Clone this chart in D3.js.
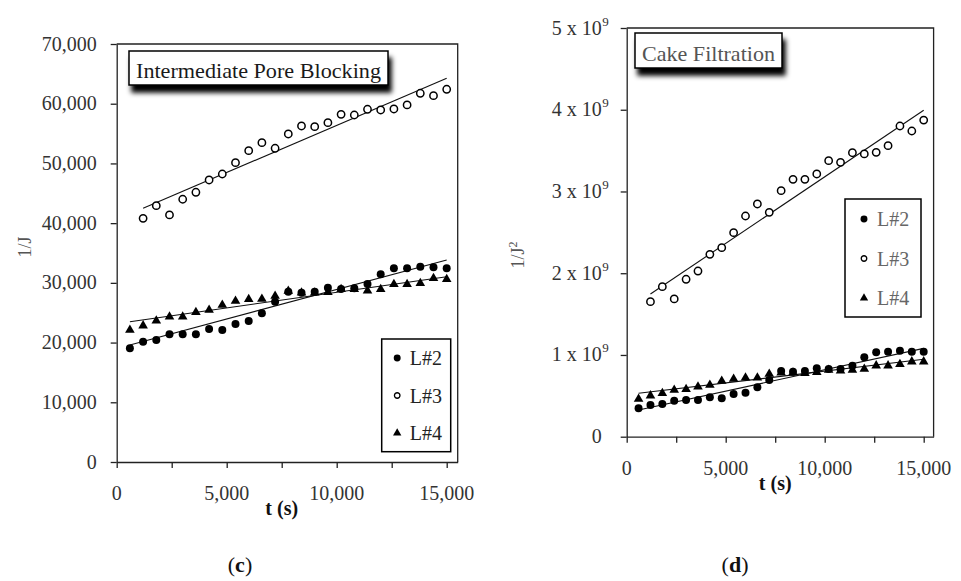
<!DOCTYPE html>
<html><head><meta charset="utf-8">
<script src="https://cdn.jsdelivr.net/npm/d3@7"></script>
<style>
body{margin:0;background:#fff;}
svg{display:block;font-family:"Liberation Serif","DejaVu Serif",serif;}
</style></head><body>
<svg id="c" width="961" height="581"></svg>
<script>
// ---- data ----
const timesL2L4 = [600,1200,1800,2400,3000,3600,4200,4800,5400,6000,6600,7200,7800,8400,9000,9600,10200,10800,11400,12000,12600,13200,13800,14400,15000];
const timesL3 = [1200,1800,2400,3000,3600,4200,4800,5400,6000,6600,7200,7800,8400,9000,9600,10200,10800,11400,12000,12600,13200,13800,14400,15000];
const seriesNames = ["L#2","L#3","L#4"];

// (c) Intermediate Pore Blocking, 1/J
const ipbL2 = [19040,20150,20430,21390,21390,21390,22270,22110,23110,23610,24900,26850,28520,28350,28520,29190,28970,29090,29810,31440,32440,32440,32710,32610,32440];
const ipbL3 = [40810,42930,41370,44000,45170,47230,48230,50130,52140,53480,52540,54930,56270,56160,56830,58230,58110,59070,58950,59120,59790,61750,61350,62420];
const ipbL4 = [22110,22830,23660,24330,24330,25070,25460,26290,26960,27250,27300,27800,28640,28350,28350,28420,28920,28920,28690,28920,29760,29760,29930,30770,30600];
const ipbTrendL2 = [[600,19600],[15000,33830]];
const ipbTrendL3 = [[1200,42490],[15000,64260]];
const ipbTrendL4 = [[600,23500],[15000,31030]];
const ipbYTicks = [0,10000,20000,30000,40000,50000,60000,70000];

// (d) Cake Filtration, 1/J^2 (in units of 10^9)
const cakeL2 = [0.347,0.388,0.400,0.440,0.449,0.449,0.482,0.470,0.522,0.538,0.604,0.694,0.804,0.795,0.804,0.837,0.828,0.828,0.869,0.971,1.033,1.040,1.052,1.040,1.040];
const cakeL3 = [1.652,1.835,1.685,1.926,2.027,2.231,2.312,2.496,2.700,2.847,2.745,3.010,3.149,3.149,3.214,3.377,3.357,3.474,3.459,3.479,3.560,3.801,3.740,3.874];
const cakeL4 = [0.461,0.502,0.531,0.571,0.580,0.612,0.632,0.681,0.706,0.722,0.722,0.767,0.783,0.783,0.776,0.788,0.816,0.807,0.816,0.828,0.869,0.869,0.886,0.918,0.918];
const cakeTrendL2 = [[600,0.327],[15000,1.081]];
const cakeTrendL3 = [[1200,1.746],[15000,3.993]];
const cakeTrendL4 = [[600,0.531],[15000,0.947]];
const cakeYTicks = [0,1,2,3,4,5];

const xTicksMajor = [0,5000,10000,15000];
const xTicksMinor = [0,2500,5000,7500,10000,12500,15000];

// ---- drawing ----
const svg = d3.select("#c");
const defs = svg.append("defs");
const flt = defs.append("filter").attr("id","sh").attr("x","-20%").attr("y","-40%").attr("width","150%").attr("height","220%");
flt.append("feDropShadow").attr("dx",3).attr("dy",7).attr("stdDeviation",2.6).attr("flood-color","#000").attr("flood-opacity",1);

const symFilled = d3.symbol().type(d3.symbolCircle).size(50);
const symOpen = d3.symbol().type(d3.symbolCircle).size(42);
const symTri = d3.symbol().type(d3.symbolTriangle).size(40);

function drawMarkers(g, pts, kind){
  const p = kind==="open" ? symOpen : kind==="tri" ? symTri : symFilled;
  g.selectAll(null).data(pts).enter().append("path")
    .attr("transform", d=>`translate(${d[0]},${d[1]})`)
    .attr("d", p())
    .attr("fill", kind==="open" ? "#fff" : "#000")
    .attr("stroke", kind==="open" ? "#000" : "none")
    .attr("stroke-width", 1.5);
}

function panel(o){
  const g = svg.append("g");
  const x = d3.scaleLinear().domain([0,15500]).range([o.x0,o.x1]);
  const y = d3.scaleLinear().domain([0,o.yMax]).range([o.y0,o.y1]);

  // frame
  g.append("path").attr("d",`M${o.x0},${o.y1}H${o.x1}V${o.y0}`)
    .attr("fill","none").attr("stroke","#222").attr("stroke-width",1.3);

  // x axis
  const xa = g.append("g").attr("transform",`translate(0,${o.y0})`)
    .call(d3.axisBottom(x).tickValues(xTicksMinor).tickSize(6).tickSizeOuter(0).tickFormat(""));
  xa.select(".domain").attr("stroke","#222").attr("stroke-width",1.3);
  xa.selectAll(".tick line").attr("stroke","#222").attr("stroke-width",1.3);
  g.selectAll(null).data(xTicksMajor).enter().append("text")
    .attr("x", d=>x(d)).attr("y", o.y0+38)
    .attr("text-anchor","middle").attr("font-size",20).attr("fill","#333")
    .text(d=>d3.format(",")(d));

  // y axis
  const ya = g.append("g").attr("transform",`translate(${o.x0},0)`)
    .call(d3.axisLeft(y).tickValues(o.yTicks).tickSize(6).tickSizeOuter(0).tickFormat(""));
  ya.select(".domain").attr("stroke","#222").attr("stroke-width",1.3);
  ya.selectAll(".tick line").attr("stroke","#222").attr("stroke-width",1.3);
  const yl = g.selectAll(null).data(o.yTicks).enter().append("g");
  yl.append("text")
    .attr("x", o.x0 - o.labGap).attr("y", d=>y(d)+6.5)
    .attr("text-anchor","end").attr("font-size",20).attr("fill","#333")
    .text(d=>o.yFmt(d));
  if(o.sup){
    yl.filter(d=>d!==0).append("text")
      .attr("x", o.x0 - o.labGap + 0.5).attr("y", d=>y(d)-2.5)
      .attr("font-size",13).attr("fill","#333").text(o.sup);
  }

  // axis titles
  g.append("text").attr("x", x(7500)).attr("y", o.y0+53)
    .attr("text-anchor","middle").attr("font-size",20).attr("font-weight","bold").attr("fill","#111")
    .text("t (s)");
  const yt = g.append("text").attr("transform",`translate(${o.yTitleX},${o.yTitleY}) rotate(-90)`)
    .attr("text-anchor","middle").attr("font-size",18).attr("fill","#555");
  yt.append("tspan").text(o.yTitle);
  if(o.yTitleSup) yt.append("tspan").attr("font-size",12).attr("dy",-7).text(o.yTitleSup);

  // trend lines
  o.trends.forEach(t=>{
    g.append("line").attr("x1",x(t[0][0])).attr("y1",y(t[0][1]))
      .attr("x2",x(t[1][0])).attr("y2",y(t[1][1]))
      .attr("stroke","#111").attr("stroke-width",1.1);
  });

  // markers
  drawMarkers(g, o.tri.t.map((t,i)=>[x(t), y(o.tri.v[i])]), "tri");
  drawMarkers(g, o.filled.t.map((t,i)=>[x(t), y(o.filled.v[i])]), "filled");
  drawMarkers(g, o.open.t.map((t,i)=>[x(t), y(o.open.v[i])]), "open");

  // title box
  const tb = o.titleBox;
  g.append("rect").attr("x",tb.x).attr("y",tb.y).attr("width",tb.w).attr("height",tb.h)
    .attr("fill","#fff").attr("stroke","#000").attr("stroke-width",1.5).attr("filter","url(#sh)");
  g.append("text").attr("x",tb.x+tb.w/2).attr("y",tb.y+tb.h-7)
    .attr("text-anchor","middle").attr("font-size",tb.fs).attr("fill",tb.color)
    .attr("textLength",tb.tl).attr("lengthAdjust","spacingAndGlyphs")
    .text(o.title);

  // legend
  const lg = o.legend;
  g.append("rect").attr("x",lg.x).attr("y",lg.y).attr("width",lg.w).attr("height",lg.h)
    .attr("fill","#fff").attr("stroke","#000").attr("stroke-width",1.5);
  const kinds = ["filled","open","tri"];
  const lsym = {
    filled: d3.symbol().type(d3.symbolCircle).size(38),
    open: d3.symbol().type(d3.symbolCircle).size(24),
    tri: d3.symbol().type(d3.symbolTriangle).size(30)
  };
  seriesNames.forEach((n,i)=>{
    const cy = lg.y + lg.first + i*lg.step;
    g.append("path").attr("transform",`translate(${lg.x+lg.mx},${cy})`)
      .attr("d", lsym[kinds[i]]())
      .attr("fill", kinds[i]==="open" ? "#fff" : "#000")
      .attr("stroke", kinds[i]==="open" ? "#000" : "none").attr("stroke-width",1.3);
    g.append("text").attr("x",lg.x+lg.tx).attr("y",cy+7)
      .attr("font-size",20).attr("fill",lg.color).text(n);
  });

  // panel letter
  const pl = g.append("text").attr("x",o.letterX).attr("y",o.letterY)
    .attr("text-anchor","middle").attr("font-size",22).attr("fill","#111");
  pl.append("tspan").text("(");
  pl.append("tspan").attr("font-weight","bold").text(o.letter);
  pl.append("tspan").text(")");
}

panel({
  x0:116.7, x1:457.7, y0:462, y1:44, yMax:70000, yTicks:ipbYTicks,
  yFmt:d=>d3.format(",")(d), labGap:20, sup:null,
  yTitle:"1/J", yTitleSup:null, yTitleX:31, yTitleY:247,
  trends:[ipbTrendL2, ipbTrendL3, ipbTrendL4],
  filled:{t:timesL2L4, v:ipbL2}, open:{t:timesL3, v:ipbL3}, tri:{t:timesL2L4, v:ipbL4},
  title:"Intermediate Pore Blocking",
  titleBox:{x:129, y:51, w:259, h:34, fs:22, tl:245, color:"#1a1a1a"},
  legend:{x:381.7, y:339, w:69, h:112.7, first:19, step:37.5, mx:15.5, tx:28, color:"#222"},
  letter:"c", letterX:240, letterY:572
});

panel({
  x0:626.7, x1:933.6, y0:436.7, y1:28, yMax:5, yTicks:cakeYTicks,
  yFmt:d=> d===0 ? "0" : d+" x 10", labGap:25, sup:"9",
  yTitle:"1/J", yTitleSup:"2", yTitleX:524, yTitleY:255,
  trends:[cakeTrendL2, cakeTrendL3, cakeTrendL4],
  filled:{t:timesL2L4, v:cakeL2}, open:{t:timesL3, v:cakeL3}, tri:{t:timesL2L4, v:cakeL4},
  title:"Cake Filtration",
  titleBox:{x:635, y:33, w:147, h:35, fs:21, tl:133, color:"#555"},
  legend:{x:845, y:199, w:76, h:118, first:20, step:39.5, mx:19, tx:32, color:"#666"},
  letter:"d", letterX:735, letterY:572
});
</script>
</body></html>
